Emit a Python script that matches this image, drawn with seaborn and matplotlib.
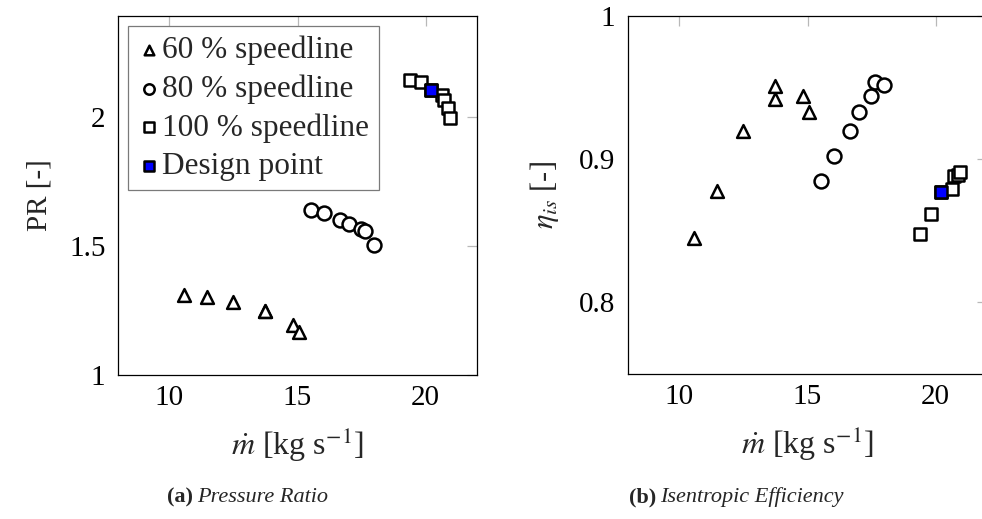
import matplotlib
matplotlib.use("Agg")
import matplotlib.pyplot as plt
import seaborn as sns
import pandas as pd

# ---- data ----
x60 = [10.59, 11.49, 12.47, 13.73, 13.74, 14.81, 15.07]
pr60 = [1.308, 1.302, 1.284, 1.249, 1.249, 1.194, 1.168]
eta60 = [0.845, 0.878, 0.920, 0.942, 0.951, 0.944, 0.933]

x80 = [15.54, 16.02, 16.64, 17.01, 17.49, 17.64, 17.99]
pr80 = [1.637, 1.627, 1.601, 1.584, 1.565, 1.559, 1.504]
eta80 = [0.885, 0.902, 0.920, 0.933, 0.944, 0.954, 0.952]

x100 = [19.38, 19.80, 20.19, 20.63, 20.71, 20.88, 20.95]
pr100 = [2.143, 2.133, 2.102, 2.085, 2.066, 2.034, 1.997]
eta100 = [0.848, 0.862, 0.877, 0.879, 0.888, 0.889, 0.891]

x_design = [20.19]
pr_design = [2.102]
eta_design = [0.877]

labels = ["60 % speedline", "80 % speedline", "100 % speedline", "Design point"]
xticks = [10, 15, 20]
pr_ticks = [1, 1.5, 2]
pr_ticklabels = ["1", "1.5", "2"]
eta_ticks = [0.8, 0.9, 1.0]
eta_ticklabels = ["0.8", "0.9", "1"]

sns.set_theme(style="white")
plt.rcParams["font.family"] = ["Liberation Serif", "DejaVu Serif"]
plt.rcParams["mathtext.fontset"] = "stix"

W, H = 982, 519
fig = plt.figure(figsize=(W / 100, H / 100), dpi=100)
axL = fig.add_axes([118 / W, 1 - 375 / H, 359 / W, 359 / H])
axR = fig.add_axes([628 / W, 1 - 374 / H, 359 / W, 358 / H])

df60 = pd.DataFrame({"x": x60, "pr": pr60, "eta": eta60})
df80 = pd.DataFrame({"x": x80, "pr": pr80, "eta": eta80})
df100 = pd.DataFrame({"x": x100, "pr": pr100, "eta": eta100})
dfd = pd.DataFrame({"x": x_design, "pr": pr_design, "eta": eta_design})

series = [
    (df60, "^", 85, "white", labels[0]),
    (df80, "o", 100, "white", labels[1]),
    (df100, "s", 85, "white", labels[2]),
    (dfd, "s", 85, "#0000ff", labels[3]),
]

for ax, ycol in [(axL, "pr"), (axR, "eta")]:
    for df, m, s, fc, lab in series:
        sns.scatterplot(data=df, x="x", y=ycol, marker=m, s=s, color=fc,
                        edgecolor="black", linewidth=1.8, ax=ax, label=lab,
                        zorder=3, clip_on=True)
    ax.set_xlim(8, 22)
    ax.set_xticks(xticks)
    ax.set_xticklabels([str(t) for t in xticks])
    for sp in ax.spines.values():
        sp.set_color("black")
        sp.set_linewidth(0.9)
    ax.tick_params(axis="both", which="both", direction="in", length=7.5, width=0.9,
                   color="#b8b8b8", top=True, right=True, labelsize=21,
                   labelcolor="black")
    ax.tick_params(axis="x", pad=7)
    ax.tick_params(axis="y", pad=9)
    ax.set_xlabel(r"$\dot{m}$ [kg s$^{-1}$]", fontsize=23, labelpad=11)

axL.set_ylim(1, 2.39)
axL.set_yticks(pr_ticks)
axL.set_yticklabels(pr_ticklabels)
axL.set_ylabel("PR [-]", fontsize=21, labelpad=12)

axR.set_ylim(0.75, 1.0)
axR.set_yticks(eta_ticks)
axR.set_yticklabels(eta_ticklabels)
axR.set_ylabel(r"$\eta_{is}$ [-]", fontsize=22, labelpad=13)

leg = axL.legend(loc="upper left", fontsize=22.5, frameon=True, fancybox=False,
                 framealpha=1, edgecolor="#7a7a7a", borderaxespad=0.32,
                 handletextpad=0.05, handlelength=0.75, borderpad=0.3,
                 labelspacing=0.3, markerscale=0.75)
leg.get_frame().set_linewidth(0.9)
axR.get_legend().remove()

# captions
fig.text(193 / W, 1 - 497 / H, "(a)", fontsize=16, fontweight="bold", ha="right", va="center")
fig.text(197 / W, 1 - 497 / H, "Pressure Ratio", fontsize=16, style="italic", ha="left", va="center")
fig.text(656 / W, 1 - 497 / H, "(b)", fontsize=16, fontweight="bold", ha="right", va="center")
fig.text(660 / W, 1 - 497 / H, "Isentropic Efficiency", fontsize=16, style="italic", ha="left", va="center")

fig.savefig("out.png", dpi=100)
